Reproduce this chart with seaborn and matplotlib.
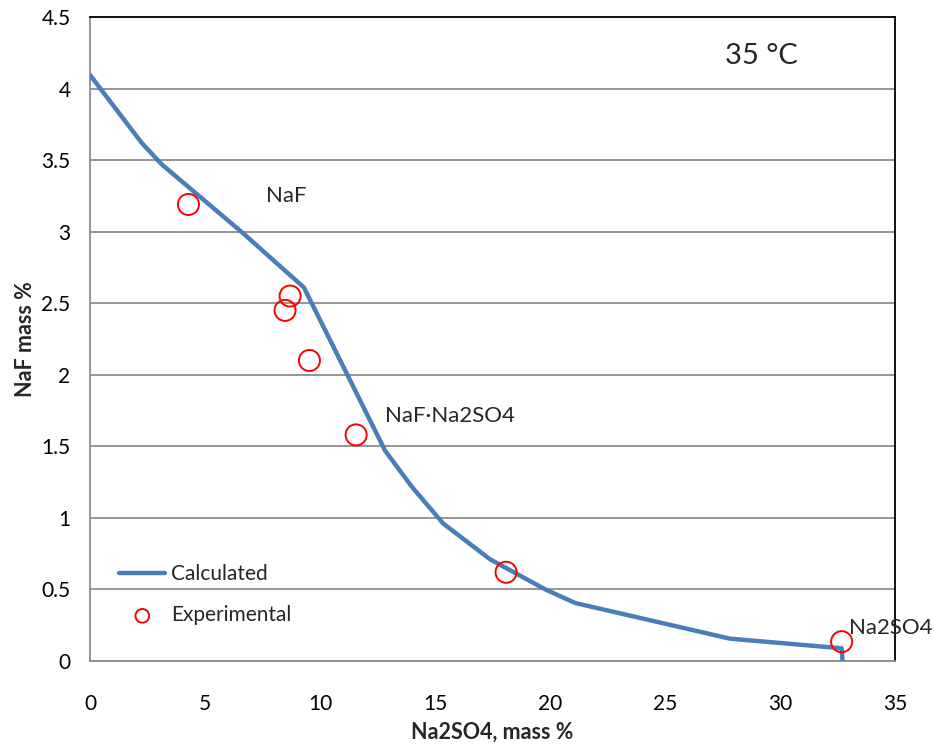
import matplotlib
matplotlib.use("Agg")
import matplotlib.pyplot as plt
import seaborn as sns
import pandas as pd

# Calculated solubility curve
calc_x = [0.0, 2.25, 3.12, 6.65, 9.3, 12.83, 13.98, 15.36, 17.4, 19.8, 21.1, 27.83, 32.68, 32.72]
calc_y = [4.095, 3.62, 3.47, 2.99, 2.61, 1.47, 1.22, 0.96, 0.71, 0.50, 0.405, 0.156, 0.089, 0.0]

# Experimental points
exp_x = [4.28, 8.70, 8.48, 9.54, 11.57, 18.09, 32.68]
exp_y = [3.19, 2.55, 2.45, 2.10, 1.58, 0.62, 0.135]

x_ticks = [0, 5, 10, 15, 20, 25, 30, 35]
y_ticks = [0, 0.5, 1, 1.5, 2, 2.5, 3, 3.5, 4, 4.5]

sns.set_theme(style="white")
plt.rcParams['font.family'] = ['Lato', 'DejaVu Sans']

calc = pd.DataFrame({"x": calc_x, "y": calc_y})
exp = pd.DataFrame({"x": exp_x, "y": exp_y})

fig = plt.figure(figsize=(9.35, 7.44), dpi=100)
ax = fig.add_axes([90/935, 1-661/744, (895-90)/935, (661-17)/744])

ax.set_xlim(0, 35)
ax.set_ylim(0, 4.5)
ax.set_xticks(x_ticks)
ax.set_yticks(y_ticks)
ax.set_yticklabels([f"{v:g}" for v in y_ticks])
ax.set_xticklabels([f"{v:g}" for v in x_ticks])

ax.yaxis.grid(True, color="#8c8c8c", linewidth=1.3)
ax.xaxis.grid(False)
ax.set_axisbelow(True)

sns.lineplot(data=calc, x="x", y="y", sort=False, ax=ax, color="#4a7ebb",
             linewidth=3.2, label="Calculated", zorder=3)
sns.scatterplot(data=exp, x="x", y="y", ax=ax, marker="o", s=230,
                facecolor="none", edgecolor="#ff0000", linewidth=1.4,
                label="Experimental", zorder=4)

for side in ["left", "bottom"]:
    ax.spines[side].set_color("#8c8c8c")
    ax.spines[side].set_linewidth(1.3)
for side in ["top", "right"]:
    ax.spines[side].set_color("black")
    ax.spines[side].set_linewidth(1.3)

ax.tick_params(axis="both", direction="out", length=6, width=1.3, color="#8c8c8c",
               labelsize=15, labelcolor="black")
ax.tick_params(axis="y", pad=8)
ax.tick_params(axis="x", pad=18)

ax.set_xlabel("Na2SO4, mass %", fontsize=15.5, fontweight="bold", labelpad=5)
ax.set_ylabel("NaF mass %", fontsize=15.5, fontweight="bold", labelpad=4)

ax.text(8.55, 3.25, "NaF", fontsize=16, ha="center", va="center")
ax.text(12.83, 1.71, "NaF·Na2SO4", fontsize=16, ha="left", va="center")
ax.text(33.0, 0.23, "Na2SO4", fontsize=16, ha="left", va="center", clip_on=False)
ax.text(29.2, 4.23, "35 °C", fontsize=21, ha="center", va="center")

leg = ax.legend(loc="lower left", bbox_to_anchor=(0.021, 0.036), frameon=False,
                fontsize=15, handlelength=2.2, handletextpad=0.3,
                labelspacing=1.0, borderaxespad=0.2, markerscale=0.65)

fig.savefig("out.png", dpi=100)
